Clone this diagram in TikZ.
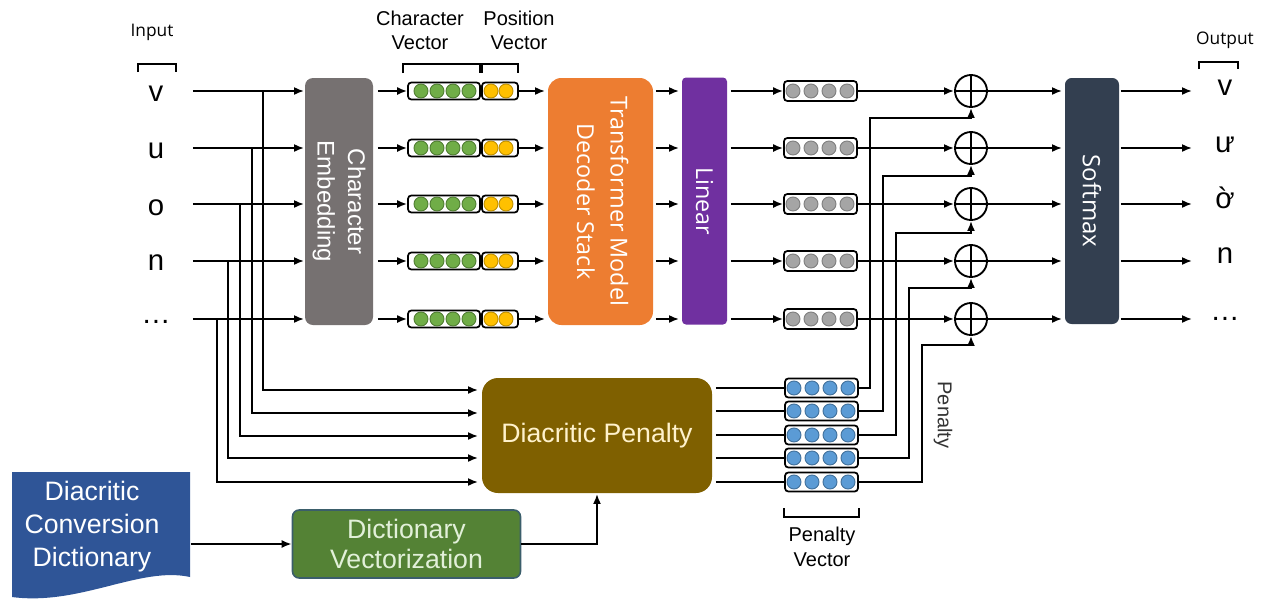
\documentclass[tikz,border=0pt]{standalone}
\usepackage{fontspec}
\setmainfont{Liberation Sans}
\newfontfamily\segfont{Open Sans}
\usetikzlibrary{arrows.meta,calc}
\newdimen\px \px=0.75pt
\definecolor{cegray}{HTML}{767171}
\definecolor{tforange}{HTML}{ED7D31}
\definecolor{linpurple}{HTML}{7030A0}
\definecolor{smnavy}{HTML}{333F50}
\definecolor{dpbrown}{HTML}{7F6000}
\definecolor{dptext}{HTML}{FFF2CC}
\definecolor{dictblue}{HTML}{2F5597}
\definecolor{dvgreen}{HTML}{548235}
\definecolor{dvborder}{HTML}{3B5E6B}
\definecolor{dvtext}{HTML}{E2F0D9}
\definecolor{cgreen}{HTML}{70AD47}
\definecolor{cgreend}{HTML}{507E32}
\definecolor{cyellow}{HTML}{FFC000}
\definecolor{cyellowd}{HTML}{BF9000}
\definecolor{cgray}{HTML}{A5A5A5}
\definecolor{cgrayd}{HTML}{7F7F7F}
\definecolor{cblue}{HTML}{5B9BD5}
\definecolor{cblued}{HTML}{41719C}
\begin{document}
\begin{tikzpicture}[x=0.75pt,y=-0.75pt,line width=1.4pt,
  arr/.style={-{Latex[length=7.5pt,width=6pt]}},
  blk/.style={rounded corners=6pt,inner sep=0pt,text=white},
  vbox/.style={draw=black,line width=1.3pt,rounded corners=2.5pt,fill=white,inner sep=0pt},
  dotc/.style={line width=0.7pt},
  letter/.style={inner sep=0pt,anchor=base,font=\fontsize{22}{26}\selectfont},
  lab/.style={inner sep=0pt,align=center,font=\fontsize{15}{18}\selectfont},
  smalllab/.style={inner sep=0pt,font=\segfont\fontsize{13}{15}\selectfont},
  plus/.style={draw,circle,minimum size=32\px,inner sep=0pt,line width=1.4pt}]
\useasboundingbox (0,0) rectangle (1265,601);

% row coordinates
\foreach \i/\y in {1/91,2/148,3/204,4/261,5/319}{\coordinate (r\i) at (0,\y);}

% main blocks
\node[blk,fill=cegray,minimum width=68\px,minimum height=247\px] (ce) at (339,201.5)
  {\rotatebox{-90}{\fontsize{18}{23}\selectfont\begin{tabular}{@{}c@{}}Character\\Embedding\end{tabular}}};
\node[blk,fill=tforange,rounded corners=10pt,minimum width=105\px,minimum height=247\px] (tf) at (600.5,201.5)
  {\rotatebox{-90}{\segfont\fontsize{17.5}{25}\selectfont\begin{tabular}{@{}c@{}}Transformer Model\\Decoder Stack\end{tabular}}};
\node[blk,fill=linpurple,rounded corners=3pt,minimum width=45\px,minimum height=247\px] (lin) at (704.5,201)
  {\rotatebox{-90}{\segfont\fontsize{17.5}{21}\selectfont Linear}};
\node[blk,fill=smnavy,rounded corners=5pt,minimum width=54\px,minimum height=246\px] (sm) at (1092,201)
  {\rotatebox{-90}{\segfont\fontsize{18}{21}\selectfont Softmax}};
\node[blk,fill=dpbrown,rounded corners=12pt,minimum width=230\px,minimum height=115\px,text=dptext,
  font=\fontsize{20}{24}\selectfont] (dp) at (597,435.5) {Diacritic Penalty};
\node[blk,fill=dvgreen,draw=dvborder,line width=1.2pt,rounded corners=5pt,minimum width=228\px,minimum height=68\px,
  align=center,text=dvtext,font=\fontsize{20}{22.5}\selectfont] (dv) at (406.5,544) {Dictionary\\Vectorization};

% dictionary document shape
\fill[dictblue] (12,472) -- (190,472) -- (190,577) .. controls (140,566) and (80,606) .. (12,597) -- cycle;
\node[inner sep=0pt,minimum width=178\px,minimum height=105\px,text=white,font=\fontsize{20}{24.75}\selectfont] (dict) at (101,527)
  {\begin{tabular}{@{}c@{}}Diacritic\\Conversion\\Dictionary\end{tabular}\hspace*{18\px}};

% inputs
\foreach \i/\t/\b in {1/v/101,2/u/158,3/o/215,4/n/270,5/…/323}{
  \node[letter,minimum width=72\px] (in\i) at (156,\b) {\t};
}
% outputs
\foreach \i/\t/\b in {1/v/95,2/ư/152,3/ờ/208,4/n/263,5/…/320}{
  \node[letter,minimum width=64\px] (out\i) at (1225,\b) {\t};
}

% character/position vectors and grey vectors
\foreach \i/\y in {1/91,2/148,3/204,4/261,5/319}{
  \node[vbox,minimum width=72\px,minimum height=17\px] (cv\i) at (444,\y) {};
  \node[vbox,minimum width=36\px,minimum height=17\px] (pv\i) at (500,\y) {};
  \foreach \cx in {421,437,453,469}{\filldraw[dotc,fill=cgreen,draw=cgreend] (\cx,\y) circle (7\px);}
  \foreach \cx in {491,506}{\filldraw[dotc,fill=cyellow,draw=cyellowd] (\cx,\y) circle (7\px);}
  \node[vbox,minimum width=73\px,minimum height=20\px] (gv\i) at (820.5,\y) {};
  \foreach \cx in {793,811,829,847}{\filldraw[dotc,fill=cgray,draw=cgrayd] (\cx,\y) circle (7\px);}
  \node[plus] (p\i) at (971,\y) {};
  \draw (p\i.north) -- (p\i.south) (p\i.west) -- (p\i.east);
}

% penalty vectors
\foreach \i/\y in {1/388,2/411,3/435,4/458,5/482}{
  \node[vbox,minimum width=73\px,minimum height=19\px] (bv\i) at (821.5,\y) {};
  \foreach \cx in {794,812,830,848}{\filldraw[dotc,fill=cblue,draw=cblued] (\cx,\y) circle (7\px);}
  \draw[shorten <=3\px] (dp.east |- bv\i) -- (bv\i.west);
}

% connectors along the rows
\foreach \i in {1,2,3,4,5}{
  \draw[arr] (in\i.east |- r\i) -- (ce.west |- r\i);
  \draw[arr,shorten <=4\px] (ce.east |- r\i) -- (cv\i.west);
  \draw[arr] (pv\i.east) -- ([xshift=-2\px]tf.west |- r\i);
  \draw[arr,shorten <=2\px] (tf.east |- r\i) -- ([xshift=-2\px]lin.west |- r\i);
  \draw[arr,shorten <=3\px] (lin.east |- r\i) -- (gv\i.west);
  \draw[arr] (gv\i.east) -- (p\i.west);
  \draw[arr] (p\i.east) -- ([xshift=-2\px]sm.west |- r\i);
  \draw[arr,shorten <=1\px] (sm.east |- r\i) -- (out\i.west |- r\i);
}

% branches from the inputs to the diacritic penalty
\foreach \i/\bx/\dy in {1/263/390,2/252/413,3/240/436,4/228/458,5/217/482}{
  \coordinate (br\i) at (\bx,0);
  \coordinate (dy\i) at (0,\dy);
  \draw[arr] (br\i |- r\i) |- ([xshift=-3\px]dp.west |- dy\i);
}

% penalties routed to the adders
\foreach \i/\vx/\ty in {1/870/118,2/883/176,3/896/233,4/909/288,5/922/345}{
  \coordinate (pt\i) at (\vx,\ty);
  \draw[arr] (bv\i.east) -| (pt\i) -| (p\i.south);
}

% dictionary flow
\draw[arr] (dict.east |- dv.west) -- (dv.west);
\draw[arr] (dv.east) -| (dp.south);

% labels
\node[smalllab] (linput) at (152,32) {Input};
\node[smalllab] (loutput) at (1225,40) {Output};
\node[lab] (lcv) at (420,30) {Character\\Vector};
\node[lab] (lpv) at (519,30) {Position\\Vector};
\node[lab,font=\fontsize{15}{19}\selectfont] (lpen) at (822,547) {Penalty\\Vector};
\node[inner sep=0pt,rotate=-90,font=\fontsize{15}{18}\selectfont,text=black!80] (lpenr) at (943,415) {Penalty};

% brackets
\draw[line width=1.3pt] (138,72) -- (138,64) -- (176,64) -- (176,72);
\draw[line width=1.3pt] (403,73) -- (403,64) -- (480,64) -- (480,73);
\draw[line width=1.3pt] (482,73) -- (482,64) -- (518,64) -- (518,73);
\draw[line width=1.3pt] (1199,69) -- (1199,62) -- (1238,62) -- (1238,69);
\draw[line width=1.3pt] (784,508) -- (784,517) -- (859,517) -- (859,508);
\end{tikzpicture}
\end{document}
